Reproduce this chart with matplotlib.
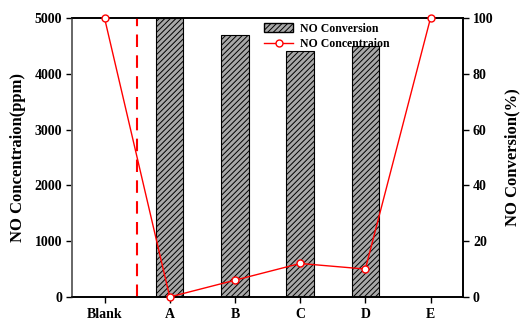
import matplotlib.pyplot as plt
from matplotlib.patches import Patch
from matplotlib.lines import Line2D

plt.rcParams['font.family'] = ['Liberation Serif', 'DejaVu Serif']
plt.rcParams['font.weight'] = 'bold'
plt.rcParams['hatch.linewidth'] = 0.7

samples = ['Blank', 'A', 'B', 'C', 'D', 'E']
conc_ppm = [5000, 0, 300, 600, 500, 5000]
bar_samples = ['A', 'B', 'C', 'D']
conversion = [100, 94, 88, 90]

fig, ax = plt.subplots(figsize=(5.21, 3.2), dpi=100)
fig.subplots_adjust(left=0.138, right=0.889, top=0.944, bottom=0.072)
ax2 = ax.twinx()

x = list(range(len(samples)))
bx = [samples.index(s) for s in bar_samples]
ax2.bar(bx, conversion, width=0.42, color='#a8a8a8', edgecolor='black',
        hatch='//////', linewidth=0.8, zorder=1)
ax.set_zorder(ax2.get_zorder() + 1)
ax.patch.set_visible(False)

ax.plot(x, conc_ppm, color='red', lw=1.0, marker='o', ms=5,
        mfc='white', mec='red', mew=1.0, clip_on=False, zorder=5)
ax.axvline(0.5, color='red', ls=(0, (6, 4)), lw=1.5)

ax.set_xlim(-0.5, 5.5)
ax.set_ylim(0, 5000)
ax2.set_ylim(0, 100)
ax.set_xticks(x)
ax.set_xticklabels(samples)
ax.set_yticks(range(0, 5001, 1000))
ax2.set_yticks(range(0, 101, 20))

for a in (ax, ax2):
    a.tick_params(direction='out', length=4, width=1, labelsize=10, pad=3)
    for s in a.spines.values():
        s.set_linewidth(1.2)
ax.spines['left'].set_color('#777777')
ax.tick_params(axis='x', pad=4)

ax.set_ylabel('NO Concentraion(ppm)', fontsize=12, fontweight='bold', labelpad=6)
ax2.set_ylabel('NO Conversion(%)', fontsize=12, fontweight='bold', labelpad=8)

handles = [Patch(facecolor='#a8a8a8', edgecolor='black', hatch='//////'),
           Line2D([], [], color='red', lw=1.0, marker='o', ms=5,
                  mfc='white', mec='red')]
ax.legend(handles, ['NO Conversion', 'NO Concentraion'], loc='upper left',
          bbox_to_anchor=(0.48, 1.0), frameon=False, fontsize=8.5,
          handlelength=2.4, handletextpad=0.6, labelspacing=0.3,
          borderaxespad=0)

fig.savefig('out.png', dpi=100)
